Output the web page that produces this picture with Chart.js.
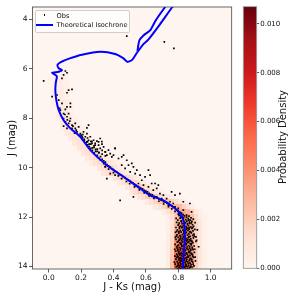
<!DOCTYPE html>
<html><head><meta charset="utf-8">
<script src="https://cdn.jsdelivr.net/npm/chart.js@4.4.1/dist/chart.umd.min.js"></script>
<style>
html,body{margin:0;padding:0;background:#fff;width:300px;height:300px;overflow:hidden;font-family:"DejaVu Sans",sans-serif;}
#wrap{position:relative;width:300px;height:300px;}
canvas{position:absolute;top:0;}
#main{left:0;}
#cb{left:240px;}
.abs{position:absolute;white-space:nowrap;}
#legend{left:34.5px;top:9.5px;width:95.5px;height:23px;border:0.8px solid #cfcfcf;border-radius:2px;background:rgba(255,255,255,0.8);box-sizing:border-box;}
.lt{font-size:6.6px;line-height:8px;color:#111;}
#cbt{left:223px;top:131px;width:120px;height:12px;line-height:12px;text-align:center;font-size:10px;color:#111;transform:rotate(-90deg);}
</style></head>
<body><div id="wrap">
<canvas id="main" width="240" height="300"></canvas>
<canvas id="cb" width="60" height="300"></canvas>
<div id="legend" class="abs"></div>
<div class="abs" style="left:43.5px;top:14.3px;width:1.7px;height:1.7px;background:#000;"></div>
<div class="abs lt" style="left:56.5px;top:11.6px;">Obs</div>
<div class="abs" style="left:36px;top:24.3px;width:16.7px;height:2px;background:#0000ff;"></div>
<div class="abs lt" style="left:56.5px;top:21.3px;">Theoretical Isochrone</div>
<div id="cbt" class="abs">Probability Density</div>
</div>
<script>
// ---- data ----
const xTicks = [0.0, 0.2, 0.4, 0.6, 0.8, 1.0];
const yTicks = [4, 6, 8, 10, 12, 14];
const cbTicks = [0.000, 0.002, 0.004, 0.006, 0.008, 0.010];
const CB_MAX = 0.0107;

const isoJKs = [0.827,0.831,0.837,0.841,0.831,0.810,0.769,0.708,0.626,0.564,0.462,0.359,0.257,0.195,0.134,0.092,0.062,0.047,0.041,0.044,0.050,0.021,0.062,0.082,0.062,0.054,0.072,0.130,0.205,0.318,0.410,0.460,0.487,0.515,0.544,0.585,0.615,0.687,0.765,0.820,0.770,0.720,0.660,0.626,0.585,0.560,0.552,0.548];
const isoJ = [14.34,13.74,13.21,12.54,12.13,11.85,11.59,11.32,11.12,10.84,10.37,9.90,9.29,8.75,8.41,8.08,7.67,7.27,6.86,6.55,6.30,6.16,6.12,6.05,5.98,5.85,5.74,5.58,5.43,5.31,5.40,5.57,5.72,5.64,5.36,5.00,4.82,4.20,3.49,3.05,3.05,3.49,4.05,4.45,4.65,4.85,5.10,5.30];

const obsPoints = [
[0.482,4.68],[0.714,4.91],[0.773,5.17],
[0.103,6.09],[0.113,6.16],[0.092,6.25],[0.082,6.39],[-0.031,6.49],
[0.123,6.86],[0.144,6.83],[0.021,7.13],[0.052,7.06],[0.062,7.27],[0.082,7.40],[0.113,7.54],[0.134,7.54],[0.072,7.67],[0.092,7.81],[0.123,7.81],[0.113,7.94],[0.092,8.01],[0.134,8.01],[0.103,8.15],[0.123,8.21],[0.144,8.28],[0.164,8.21],[0.092,8.32],[0.113,8.41],[0.144,8.41],[0.164,8.41],[0.185,8.35],[0.246,8.28],[0.236,8.39],[0.175,8.55],[0.195,8.62],[0.215,8.55],[0.236,8.62],[0.226,8.75],[0.206,8.75],[0.257,8.75],[0.246,8.89],[0.277,8.89],[0.318,8.82],[0.308,8.96],[0.236,8.96],[0.267,9.02],[0.287,9.09],[0.329,9.05],[0.410,9.22],
[0.113,6.97],[0.068,7.60],[0.103,7.64],[0.134,7.40],[0.10,7.85],[0.115,8.07],[0.13,8.12],[0.15,8.32],[0.17,8.48],[0.16,8.60],[0.19,8.70],[0.21,8.66],[0.22,8.85],[0.24,8.80],[0.26,8.94],[0.25,9.05],[0.28,9.12],[0.27,9.20],[0.30,9.25],[0.29,9.34],[0.31,9.38],[0.33,9.30],[0.35,9.36],
[0.20,8.68],[0.21,8.80],[0.22,8.92],[0.23,9.00],[0.24,9.08],[0.25,9.15],[0.26,9.22],[0.27,9.30],[0.28,9.18],[0.29,9.26],[0.30,9.34],[0.31,9.40],[0.24,8.95],[0.26,9.05],[0.33,9.45],[0.35,9.52],[0.28,9.40],
[0.267,8.95],[0.287,9.02],[0.298,8.93],[0.308,9.09],[0.328,8.95],[0.318,9.22],[0.339,9.16],[0.349,9.36],[0.369,9.29],[0.380,9.43],[0.359,9.49],[0.390,9.56],[0.400,9.49],[0.410,9.22],[0.431,9.63],[0.451,9.56],[0.462,9.49],[0.482,9.70],[0.493,9.90],[0.513,9.83],[0.523,9.97],[0.451,9.90],[0.472,10.03],[0.503,10.17],[0.534,10.24],[0.544,10.10],[0.564,10.30],[0.595,10.37],[0.616,10.10],[0.575,10.51],[0.554,10.64],[0.585,10.71],[0.616,10.78],[0.636,10.64],[0.646,10.91],[0.667,10.84],[0.687,11.05],[0.708,11.11],[0.667,11.18],[0.698,11.25],[0.728,11.25],[0.749,11.38],[0.769,11.45],[0.739,11.52],[0.780,11.59],[0.800,11.65],[0.831,11.72],[0.810,11.86],[0.851,11.92],[0.872,11.45],[0.882,11.79],[0.349,9.97],[0.380,10.24],[0.359,10.44],[0.441,11.32],[0.759,10.98],[0.780,11.11],[0.810,11.05],[0.831,11.38],[0.657,10.64],[0.677,10.71],[0.523,11.18],[0.626,10.30],[0.410,10.30],
[0.30,9.50],[0.32,9.55],[0.31,9.62],[0.33,9.66],[0.34,9.72],[0.32,9.70],[0.35,9.78],[0.34,9.84],[0.36,9.88],[0.37,9.93],[0.35,9.95],[0.38,9.98],[0.39,10.04],[0.37,10.06],[0.40,10.08],[0.41,10.14],[0.42,10.18],[0.40,10.20],[0.43,10.24],[0.44,10.28],[0.45,10.30],[0.43,10.33],[0.46,10.36],[0.47,10.40],[0.45,10.44],[0.48,10.45],[0.49,10.50],[0.50,10.52],[0.48,10.56],[0.51,10.58],[0.52,10.62],[0.50,10.65],[0.53,10.68],[0.54,10.72],[0.55,10.76],[0.53,10.78],[0.56,10.80],[0.57,10.84],[0.58,10.86],[0.56,10.90],[0.59,10.92],[0.60,10.95],[0.61,10.98],[0.59,11.02],[0.62,11.04],[0.63,11.08],[0.64,11.10],[0.62,11.14],[0.65,11.16],[0.66,11.18],[0.67,11.22],[0.65,11.24],[0.68,11.26],[0.69,11.30],[0.70,11.32],[0.68,11.36],[0.71,11.38],[0.72,11.40],[0.73,11.44],[0.71,11.47],[0.74,11.48],[0.75,11.52],[0.76,11.55],[0.74,11.58],[0.77,11.60],[0.78,11.64],[0.76,11.67],[0.79,11.70],[0.80,11.74],[0.78,11.77],[0.81,11.80],[0.82,11.84],[0.80,11.88],[0.83,11.90],
[0.805,11.93],[0.822,11.97],[0.838,11.95],[0.851,12.0],[0.866,11.96],[0.879,12.03],[0.812,12.04],[0.829,12.07],[0.846,12.1],[0.861,12.06],[0.874,12.12],[0.893,12.08],[0.797,12.12],[0.818,12.15],[0.835,12.18],[0.853,12.16],[0.869,12.2],[0.884,12.17],[0.904,12.22],[0.79,12.21],
[0.806,12.24],[0.824,12.27],[0.84,12.25],[0.857,12.3],[0.872,12.26],[0.888,12.31],[0.799,12.33],[0.815,12.36],[0.831,12.34],[0.848,12.38],[0.863,12.35],[0.878,12.4],[0.895,12.37],[0.786,12.42],[0.808,12.45],[0.822,12.43],[0.838,12.47],[0.853,12.44],[0.868,12.49],[0.884,12.46],[0.902,12.5],[0.795,12.52],[0.812,12.55],[0.829,12.53],[0.845,12.57],[0.86,12.54],[0.876,12.59],[0.891,12.56],[0.918,12.52],
[0.783,12.62],[0.803,12.65],[0.818,12.61],[0.834,12.66],[0.85,12.63],[0.865,12.68],[0.881,12.64],[0.897,12.69],[0.792,12.72],[0.81,12.75],[0.826,12.71],[0.842,12.76],[0.857,12.73],[0.873,12.78],[0.889,12.74],[0.909,12.8],[0.799,12.82],[0.815,12.85],[0.831,12.81],[0.847,12.86],[0.862,12.83],[0.877,12.88],[0.894,12.84],[0.786,12.9],[0.806,12.93],[0.821,12.95],[0.837,12.91],[0.853,12.96],[0.868,12.92],[0.884,12.97],[0.913,12.94],
[0.794,13.01],[0.811,13.04],[0.827,13.0],[0.843,13.05],[0.858,13.02],[0.874,13.07],[0.89,13.03],[0.781,13.1],[0.801,13.13],[0.817,13.09],[0.833,13.14],[0.849,13.11],[0.864,13.16],[0.88,13.12],[0.898,13.17],[0.79,13.2],[0.807,13.23],[0.823,13.19],[0.839,13.24],[0.855,13.21],[0.87,13.26],[0.886,13.22],[0.926,13.2],[0.797,13.3],[0.813,13.33],[0.829,13.29],[0.845,13.34],[0.861,13.31],[0.876,13.36],[0.892,13.32],[0.784,13.38],
[0.803,13.41],[0.819,13.44],[0.835,13.4],[0.851,13.45],[0.866,13.42],[0.882,13.47],[0.9,13.43],[0.791,13.5],[0.809,13.53],[0.825,13.49],[0.841,13.54],[0.857,13.51],[0.872,13.56],[0.888,13.52],[0.78,13.58],[0.798,13.61],[0.815,13.64],[0.831,13.6],[0.847,13.65],[0.862,13.62],[0.878,13.67],[0.894,13.63],[0.786,13.7],[0.805,13.73],[0.821,13.69],[0.837,13.74],[0.853,13.71],[0.868,13.76],[0.884,13.72],[0.906,13.77],
[0.793,13.8],[0.81,13.83],[0.826,13.79],[0.842,13.84],[0.858,13.81],[0.873,13.86],[0.889,13.82],[0.781,13.9],[0.8,13.93],[0.816,13.89],[0.832,13.94],[0.848,13.91],[0.864,13.96],[0.879,13.92],[0.897,13.97],[0.788,14.0],[0.806,14.03],[0.822,13.99],[0.838,14.04],[0.854,14.01],[0.869,14.06],[0.885,14.02],[0.795,14.08],[0.812,14.07],[0.845,14.09],
[0.815,12.0],[0.845,12.22],[0.808,12.39],[0.87,12.42],[0.835,12.6],[0.815,12.78],[0.855,12.9],[0.8,12.98],[0.865,13.0],[0.822,13.15],[0.84,13.37],[0.805,13.47],[0.86,13.58],[0.825,13.78],[0.85,13.97],[0.812,13.68],[0.877,13.32],[0.793,13.25],[0.826,12.88],[0.848,12.5],[0.82,12.19],[0.865,12.12],[0.79,12.58],[0.795,13.56],[0.799,13.87],[0.876,13.99],[0.872,13.44],
[0.787,12.05],[0.833,12.02],[0.858,12.26],[0.881,12.23],[0.802,12.29],[0.827,12.4],[0.861,12.46],[0.889,12.42],[0.803,12.6],[0.842,12.64],[0.871,12.6],[0.788,12.77],[0.835,12.78],[0.866,12.8],[0.899,12.77],[0.81,12.9],[0.845,12.94],[0.876,12.95],[0.818,13.06],[0.85,13.07],[0.882,13.06],[0.795,13.16],[0.839,13.17],[0.871,13.2],[0.815,13.26],[0.853,13.27],[0.887,13.28],[0.797,13.36],[0.831,13.38],[0.865,13.39],[0.813,13.49],[0.848,13.48],[0.881,13.5],[0.79,13.63],[0.822,13.56],[0.855,13.62],[0.889,13.58],[0.805,13.66],[0.838,13.68],[0.872,13.7],[0.816,13.76],[0.849,13.78],[0.882,13.78],[0.797,13.97],[0.83,13.86],[0.862,13.88],[0.81,13.96],[0.843,13.99],[0.874,14.03],[0.825,14.07],[0.858,14.08],[0.892,13.9],[0.902,13.3],[0.904,13.62],[0.909,12.98],[0.778,13.3],[0.776,13.82],[0.782,12.82]
];

// density grid rows: row centre (J), left edge of first cell (J-Ks), cell values
const heatJ = [6.2,6.4,6.6,6.8,7.0,7.2,7.4,7.6,7.8,8.0,8.2,8.4,8.6,8.8,9.0,9.2,9.4,9.6,9.8,10.0,10.2,10.4,10.6,10.8,11.0,11.2,11.4,11.6,11.8,12.0,12.2,12.4,12.6,12.8,13.0,13.2,13.4,13.6,13.8,14.0];
const heatX0 = [0.025,0.0,0.025,0.025,0.025,0.025,0.025,0.05,0.05,0.05,0.075,0.075,0.1,0.125,0.15,0.175,0.2,0.225,0.25,0.3,0.325,0.4,0.425,0.475,0.5,0.55,0.6,0.65,0.7,0.725,0.725,0.725,0.725,0.725,0.725,0.725,0.725,0.725,0.725,0.725];
const heatV = [
[0.0003,0.0004,0.0004,0.0003],
[0.0003,0.0004,0.0005,0.0004,0.0003],
[0.0004,0.0005,0.0004,0.0003],
[0.0004,0.0005,0.0005,0.0003],
[0.0004,0.0006,0.0005,0.0004],
[0.0004,0.0006,0.0006,0.0004],
[0.0003,0.0006,0.0007,0.0005,0.0003],
[0.0006,0.0008,0.0006,0.0003],
[0.0006,0.0008,0.0007,0.0004],
[0.0005,0.0008,0.0008,0.0005,0.0003],
[0.0007,0.0009,0.0008,0.0005,0.0003],
[0.0005,0.0009,0.0010,0.0008,0.0004,0.0003],
[0.0007,0.0010,0.0011,0.0008,0.0004],
[0.0007,0.0011,0.0012,0.0009,0.0005],
[0.0008,0.0012,0.0013,0.0010,0.0006,0.0003],
[0.0008,0.0013,0.0015,0.0012,0.0007,0.0004],
[0.0008,0.0013,0.0016,0.0014,0.0009,0.0005,0.0003],
[0.0007,0.0012,0.0016,0.0015,0.0011,0.0007,0.0004],
[0.0006,0.0011,0.0015,0.0017,0.0013,0.0009,0.0005,0.0003],
[0.0009,0.0014,0.0018,0.0016,0.0011,0.0006,0.0003],
[0.0008,0.0013,0.0018,0.0019,0.0014,0.0008,0.0004],
[0.0009,0.0015,0.0019,0.0017,0.0012,0.0007,0.0003],
[0.0007,0.0012,0.0017,0.0020,0.0016,0.0010,0.0005],
[0.0008,0.0013,0.0018,0.0020,0.0016,0.0010,0.0005,0.0003],
[0.0008,0.0014,0.0020,0.0021,0.0017,0.0012,0.0007,0.0004],
[0.0008,0.0014,0.0020,0.0023,0.0021,0.0016,0.0011,0.0007,0.0004],
[0.0007,0.0012,0.0018,0.0022,0.0025,0.0024,0.0020,0.0014,0.0009,0.0005],
[0.0008,0.0012,0.0018,0.0024,0.0028,0.0029,0.0026,0.0018,0.0010,0.0005],
[0.0006,0.0011,0.0018,0.0026,0.0031,0.0033,0.0028,0.0018,0.0009,0.0004],
[0.0006,0.0012,0.0022,0.0031,0.0036,0.0034,0.0025,0.0014,0.0006,0.0003],
[0.0004,0.0010,0.0024,0.0035,0.0039,0.0036,0.0028,0.0017,0.0008,0.0003],
[0.0004,0.0011,0.0027,0.0039,0.0042,0.0038,0.0029,0.0018,0.0008,0.0003],
[0.0004,0.0012,0.0030,0.0044,0.0046,0.0040,0.0030,0.0018,0.0008,0.0003],
[0.0005,0.0014,0.0034,0.0049,0.0049,0.0042,0.0031,0.0018,0.0008,0.0003],
[0.0005,0.0016,0.0039,0.0054,0.0053,0.0044,0.0032,0.0019,0.0008,0.0003],
[0.0005,0.0018,0.0044,0.0058,0.0056,0.0046,0.0034,0.0020,0.0009,0.0003],
[0.0005,0.0020,0.0049,0.0062,0.0059,0.0048,0.0035,0.0020,0.0009,0.0004],
[0.0006,0.0022,0.0053,0.0065,0.0061,0.0050,0.0036,0.0021,0.0009,0.0004],
[0.0006,0.0024,0.0056,0.0067,0.0062,0.0051,0.0037,0.0021,0.0009,0.0004],
[0.0006,0.0025,0.0057,0.0068,0.0062,0.0051,0.0037,0.0021,0.0009,0.0004]
];
const BIN_X = 0.025, BIN_Y = 0.2;

// ---- Reds colormap ----
const REDS = ['#fff5f0','#fee0d2','#fcbba1','#fc9272','#fb6a4a','#ef3b2c','#cb181d','#a50f15','#67000d'];
function hex2rgb(h){return [parseInt(h.slice(1,3),16),parseInt(h.slice(3,5),16),parseInt(h.slice(5,7),16)];}
function reds(t){
  t = Math.max(0, Math.min(1, t));
  const s = t * (REDS.length - 1);
  const i = Math.min(REDS.length - 2, Math.floor(s));
  const f = s - i;
  const a = hex2rgb(REDS[i]), b = hex2rgb(REDS[i+1]);
  return 'rgb(' + a.map((v,k)=>Math.round(v + (b[k]-v)*f)).join(',') + ')';
}

Chart.defaults.font.family = '"DejaVu Sans", sans-serif';
Chart.defaults.color = '#111';

const heatPlugin = {
  id: 'heat',
  beforeDatasetsDraw(chart) {
    const {ctx, chartArea: a, scales: {x, y}} = chart;
    ctx.save();
    ctx.beginPath(); ctx.rect(a.left, a.top, a.right - a.left, a.bottom - a.top); ctx.clip();
    ctx.fillStyle = reds(0);
    ctx.fillRect(a.left, a.top, a.right - a.left, a.bottom - a.top);
    heatJ.forEach((jc, r) => {
      const x0 = heatX0[r];
      heatV[r].forEach((v, k) => {
        const p1 = x.getPixelForValue(x0 + k * BIN_X), p2 = x.getPixelForValue(x0 + (k + 1) * BIN_X);
        const q1 = y.getPixelForValue(jc - BIN_Y / 2), q2 = y.getPixelForValue(jc + BIN_Y / 2);
        ctx.fillStyle = reds(v / CB_MAX);
        ctx.fillRect(Math.floor(p1), Math.floor(Math.min(q1, q2)), Math.ceil(p2) - Math.floor(p1), Math.ceil(Math.max(q1, q2)) - Math.floor(Math.min(q1, q2)));
      });
    });
    ctx.restore();
  }
};
const framePlugin = {
  id: 'frame',
  afterDatasetsDraw(chart, args, opts) {
    const {ctx, chartArea: a} = chart;
    ctx.save();
    ctx.strokeStyle = opts.color || '#444';
    ctx.lineWidth = 0.8;
    ctx.strokeRect(a.left, a.top, a.right - a.left, a.bottom - a.top);
    ctx.restore();
  }
};

new Chart(document.getElementById('main'), {
  type: 'scatter',
  data: { datasets: [
    { label: 'Theoretical Isochrone', data: isoJKs.map((v, i) => ({x: v, y: isoJ[i]})), showLine: true, borderColor: '#0000ff', borderWidth: 2, pointRadius: 0, tension: 0.2, fill: false },
    { label: 'Obs', data: obsPoints.map(p => ({x: p[0], y: p[1]})), pointStyle: 'rect', pointRadius: 1.2, pointBackgroundColor: '#000', pointBorderWidth: 0, borderWidth: 0 }
  ]},
  options: {
    responsive: false, animation: false, events: [],
    layout: {padding: {left: 0, right: 8.3, top: 7, bottom: 0}},
    plugins: {legend: {display: false}, tooltip: {enabled: false}, frame: {color: '#444'}},
    scales: {
      x: {
        type: 'linear', min: -0.1, max: 1.13,
        afterBuildTicks: s => { s.ticks = xTicks.map(v => ({value: v})); },
        afterFit: s => { s.height = 31; },
        grid: {drawOnChartArea: false, drawTicks: true, tickLength: 3.5, color: '#333', lineWidth: 0.8},
        border: {display: false},
        ticks: {color: '#111', font: {size: 7.5}, padding: 1.5, maxRotation: 0, autoSkip: false, callback: v => Number(v).toFixed(1)},
        title: {display: true, text: 'J - Ks (mag)', color: '#111', font: {size: 10}, padding: {top: 0, bottom: 6.5}}
      },
      y: {
        type: 'linear', reverse: true, min: 3.5, max: 14.1,
        afterBuildTicks: s => { s.ticks = yTicks.map(v => ({value: v})); },
        afterFit: s => { s.width = 32.5; },
        grid: {drawOnChartArea: false, drawTicks: true, tickLength: 3.5, color: '#333', lineWidth: 0.8},
        border: {display: false},
        ticks: {color: '#111', font: {size: 7.5}, padding: 1.5, autoSkip: false, callback: v => String(v)},
        title: {display: true, text: 'J (mag)', color: '#111', font: {size: 10}, padding: {top: 6.5, bottom: 0}}
      }
    }
  },
  plugins: [heatPlugin, framePlugin]
});

new Chart(document.getElementById('cb'), {
  type: 'bar',
  data: { labels: [''], datasets: [{
    data: [[0, CB_MAX]],
    backgroundColor: (c) => {
      const ch = c.chart;
      if (!ch.chartArea) return REDS[0];
      const y = ch.scales.y;
      const g = ch.ctx.createLinearGradient(0, y.getPixelForValue(0), 0, y.getPixelForValue(CB_MAX));
      REDS.forEach((col, i) => g.addColorStop(i / (REDS.length - 1), col));
      return g;
    },
    borderWidth: 0, barPercentage: 1, categoryPercentage: 1, inflateAmount: 0
  }]},
  options: {
    responsive: false, animation: false, events: [],
    layout: {padding: {left: 3.3, right: 0, top: 6.7, bottom: 31.7}},
    plugins: {legend: {display: false}, tooltip: {enabled: false}, frame: {color: '#8a8a8a'}},
    scales: {
      x: {display: false},
      y: {
        position: 'right', min: 0, max: CB_MAX,
        afterBuildTicks: s => { s.ticks = cbTicks.map(v => ({value: v})); },
        afterFit: s => { s.width = 43.3; },
        grid: {drawOnChartArea: false, drawTicks: true, tickLength: 2.5, color: '#333', lineWidth: 0.8},
        border: {display: false},
        ticks: {color: '#111', font: {size: 7}, padding: 1, autoSkip: false, callback: v => Number(v).toFixed(3)}
      }
    }
  },
  plugins: [framePlugin]
});
</script>
</body></html>
